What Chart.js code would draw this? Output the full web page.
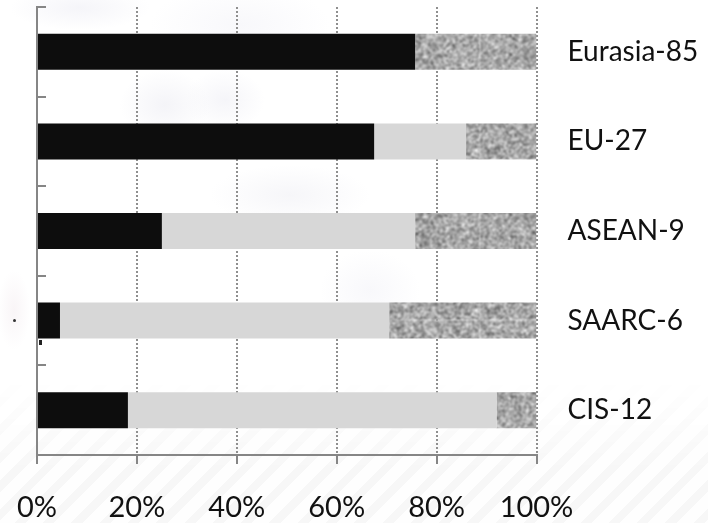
<!DOCTYPE html>
<html>
<head>
<meta charset="utf-8">
<script src="https://cdn.jsdelivr.net/npm/chart.js@4"></script>
<style>
  html, body { margin: 0; padding: 0; background: #fff; }
  #wrap { position: relative; width: 708px; height: 523px; overflow: hidden; }
  #map, #stripes { position: absolute; left: 0; top: 0; width: 708px; height: 523px; }
  /* faint world map behind the plot */
  #map {
    background:
      radial-gradient(ellipse 70px 22px at 80px 8px, #f5f5f9 0%, rgba(245,245,249,0) 100%),
      radial-gradient(ellipse 45px 35px at 165px 105px, #f4f4f8 0%, rgba(244,244,248,0) 100%),
      radial-gradient(ellipse 40px 30px at 225px 100px, #f5f5f9 0%, rgba(245,245,249,0) 100%),
      radial-gradient(ellipse 80px 30px at 290px 195px, #f6f6f9 0%, rgba(246,246,249,0) 100%),
      radial-gradient(ellipse 90px 40px at 240px 25px, #f8f8fb 0%, rgba(248,248,251,0) 100%),
      radial-gradient(ellipse 50px 40px at 370px 290px, #f8f8fb 0%, rgba(248,248,251,0) 100%),
      radial-gradient(ellipse 16px 40px at 14px 310px, #f9f5f7 0%, rgba(249,245,247,0) 100%);
  }
  #stripes {
    background: repeating-linear-gradient(135deg, #f7f7f7 0 8px, #fefefe 8px 20px);
    -webkit-mask-image: linear-gradient(to bottom, rgba(0,0,0,0) 380px, #000 470px);
    mask-image: linear-gradient(to bottom, rgba(0,0,0,0) 380px, #000 470px);
  }
  canvas { position: absolute; left: 0; top: 0; }
  .speck { position: absolute; background: #333; }
</style>
</head>
<body>
<div id="wrap">
  <div id="map"></div>
  <div id="stripes"></div>
  <div class="speck" style="left:13px;top:319px;width:3px;height:3px;border-radius:2px"></div>
  <canvas id="chart" width="708" height="523"></canvas>
  <div class="speck" style="left:39px;top:340px;width:3px;height:5px;background:#222"></div>
</div>
<script>
const categories = ['Eurasia-85', 'EU-27', 'ASEAN-9', 'SAARC-6', 'CIS-12'];
const seriesBlack = [75.7, 67.5, 25.0, 4.6, 18.2];
const seriesGray = [0, 18.4, 50.7, 65.9, 73.8];
const seriesNoise = [24.3, 14.1, 24.3, 29.5, 8.0];
const tickLabels = ['0%', '20%', '40%', '60%', '80%', '100%'];

const FONT = 'Lato';
const AXIS_GRAY = '#868686';

// grainy fill for the third series, fixed hash so it looks the same every run
function noisePattern() {
    const size = 160;
    const c = document.createElement('canvas');
    c.width = size;
    c.height = size;
    const g = c.getContext('2d');
    const img = g.createImageData(size, size);
    for (let y = 0; y < size; y++) {
        for (let x = 0; x < size; x++) {
            const h = Math.sin(x * 12.9898 + y * 78.233) * 43758.5453;
            const n = h - Math.floor(h);
            const v = Math.round(50 + n * 235);
            const i = (y * size + x) * 4;
            img.data[i] = v;
            img.data[i + 1] = v;
            img.data[i + 2] = v;
            img.data[i + 3] = 255;
        }
    }
    g.putImageData(img, 0, 0);
    const out = document.createElement('canvas');
    out.width = size;
    out.height = size;
    const o = out.getContext('2d');
    o.filter = 'blur(0.8px)';
    // draw neighbours too so the blur wraps and the tile has no seam
    for (let dy = -1; dy <= 1; dy++) {
        for (let dx = -1; dx <= 1; dx++) {
            o.drawImage(c, dx * size, dy * size);
        }
    }
    return o.createPattern(out, 'repeat');
}

new Chart(document.getElementById('chart'), {
    type: 'bar',
    data: {
        labels: categories,
        datasets: [
            { data: seriesBlack, backgroundColor: '#0d0d0d', yAxisID: 'y' },
            { data: seriesGray, backgroundColor: '#d7d7d7', yAxisID: 'y' },
            { data: seriesNoise, backgroundColor: noisePattern(), yAxisID: 'y' }
        ]
    },
    options: {
        indexAxis: 'y',
        responsive: false,
        animation: false,
        events: [],
        datasets: { bar: { categoryPercentage: 1, barPercentage: 0.402 } },
        layout: { padding: { left: 37, top: 7, right: 0, bottom: 0 } },
        plugins: { legend: { display: false }, tooltip: { enabled: false } },
        scales: {
            x: {
                type: 'linear',
                stacked: true,
                min: 0,
                max: 100,
                afterFit: axis => {
                    axis.height = 68;
                    axis.paddingLeft = 0;
                    axis.paddingRight = 0;
                },
                border: { color: AXIS_GRAY, width: 2, dash: [2, 2] },
                grid: {
                    color: c => c.tick && c.tick.value === 0 ? 'rgba(0,0,0,0)' : '#8f8f8f',
                    lineWidth: 2,
                    tickColor: AXIS_GRAY,
                    tickLength: 9
                },
                ticks: {
                    color: '#111',
                    font: { family: FONT, size: 29 },
                    padding: 26,
                    stepSize: 20,
                    maxRotation: 0,
                    autoSkip: false,
                    callback: (v, i) => tickLabels[i]
                }
            },
            y: {
                type: 'category',
                stacked: true,
                position: 'left',
                offset: true,
                afterFit: axis => { axis.width = 0; },
                border: { color: AXIS_GRAY, width: 2 },
                grid: {
                    offset: true,
                    drawOnChartArea: false,
                    tickColor: AXIS_GRAY,
                    tickLength: -9,
                    lineWidth: 2
                },
                ticks: { display: false }
            },
            labelsRight: {
                type: 'category',
                position: 'right',
                offset: true,
                afterFit: axis => {
                    axis.width = 171.5;
                    axis.paddingTop = 0;
                    axis.paddingBottom = 0;
                },
                border: { display: false },
                grid: { display: false, drawTicks: false },
                ticks: {
                    color: '#111',
                    font: { family: FONT, size: 28 },
                    crossAlign: 'near',
                    padding: 31,
                    autoSkip: false
                }
            }
        }
    }
});
</script>
</body>
</html>
